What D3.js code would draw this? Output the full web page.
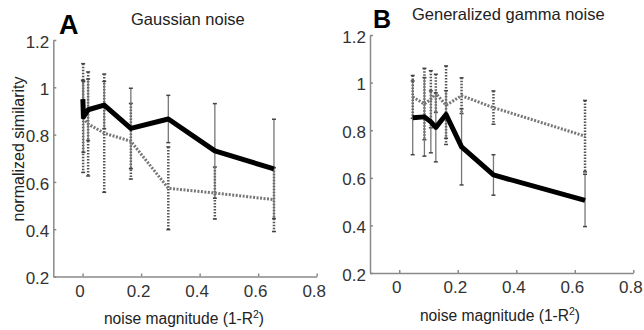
<!DOCTYPE html>
<html>
<head>
<meta charset="utf-8">
<script src="https://cdn.jsdelivr.net/npm/d3@7"></script>
<style>
  body { margin: 0; background: #fff; }
  svg { display: block; font-family: "Liberation Sans", Arial, sans-serif; }
  .axis path, .axis line { stroke: #8a8a8a; stroke-width: 1.5; }
  .axis text { fill: #333; font-size: 17px; }
</style>
</head>
<body>
<div id="chart"></div>
<script>
// shared ticks
const xTicks = [0, 0.2, 0.4, 0.6, 0.8];
const yTicks = [0.2, 0.4, 0.6, 0.8, 1, 1.2];

// panel A - Gaussian noise
const gaussSolidX = [0.001, 0.003, 0.019, 0.074, 0.165, 0.293, 0.452, 0.654];
const gaussSolidY = [0.95, 0.875, 0.905, 0.925, 0.826, 0.866, 0.731, 0.655];
const gaussSolidErr = [0.08, 0.15, 0.13, 0.1, 0.17, 0.1, 0.2, 0.21];
const gaussDotX = [0.002, 0.019, 0.074, 0.165, 0.293, 0.452, 0.654];
const gaussDotY = [0.87, 0.845, 0.806, 0.772, 0.573, 0.553, 0.525];
const gaussDotErr = [0.23, 0.22, 0.25, 0.16, 0.175, 0.11, 0.135];

// panel B - generalized gamma noise
const gammaX = [0.046, 0.086, 0.108, 0.125, 0.16, 0.213, 0.322, 0.635];
const gammaSolidY = [0.852, 0.856, 0.835, 0.812, 0.866, 0.73, 0.612, 0.505];
const gammaSolidErr = [0.155, 0.165, 0.13, 0.145, 0.1, 0.16, 0.085, 0.11];
const gammaDotY = [0.94, 0.91, 0.93, 0.955, 0.905, 0.945, 0.895, 0.775];
const gammaDotErr = [0.09, 0.15, 0.12, 0.08, 0.165, 0.075, 0.07, 0.15];

const width = 644, height = 330;

const svg = d3.select('#chart').append('svg')
  .attr('width', width)
  .attr('height', height);

function drawPanel(cfg) {
  const x = d3.scaleLinear().domain([-0.1, 0.8]).range([cfg.left, cfg.right]);
  const y = d3.scaleLinear().domain([0.2, 1.2]).range([cfg.bottom, cfg.top]);
  const g = svg.append('g');

  // tick labels sit a few px left of their ticks, like the original
  g.append('g')
    .attr('class', 'axis')
    .attr('transform', `translate(0,${cfg.bottom})`)
    .call(d3.axisBottom(x).tickValues(xTicks).tickFormat(d3.format('')).tickSizeInner(-3).tickSizeOuter(0).tickPadding(8))
    .call(a => a.selectAll('text').attr('font-size', 17).attr('dx', -3));

  g.append('g')
    .attr('class', 'axis')
    .attr('transform', `translate(${cfg.left},0)`)
    .call(d3.axisLeft(y).tickValues(yTicks).tickFormat(d3.format('')).tickSizeInner(-3).tickSizeOuter(0).tickPadding(4))
    .call(a => a.selectAll('text').attr('font-size', 17).attr('dy', '0.42em'));

  const line = d3.line().x(d => x(d[0])).y(d => y(d[1]));

  function errorBars(xs, ys, errs, cls) {
    const data = xs.map((v, i) => ({ x: v, y: ys[i], e: errs[i] }));
    const bars = g.append('g').selectAll('g').data(data).enter().append('g');
    bars.append('line')
      .attr('x1', d => x(d.x)).attr('x2', d => x(d.x))
      .attr('y1', d => y(d.y + d.e)).attr('y2', d => y(d.y - d.e))
      .attr('stroke', cls.color)
      .attr('stroke-width', cls.width)
      .attr('stroke-dasharray', cls.dash);
    [1, -1].forEach(s => {
      bars.append('line')
        .attr('x1', d => x(d.x) - 2).attr('x2', d => x(d.x) + 2)
        .attr('y1', d => y(d.y + s * d.e)).attr('y2', d => y(d.y + s * d.e))
        .attr('stroke', '#444')
        .attr('stroke-width', 1.5);
    });
  }

  // dotted series
  errorBars(cfg.dotX, cfg.dotY, cfg.dotErr, { color: '#555', width: 2.5, dash: '1.5,1.5' });
  g.append('path')
    .datum(cfg.dotX.map((v, i) => [v, cfg.dotY[i]]))
    .attr('d', line)
    .attr('fill', 'none')
    .attr('stroke', '#777')
    .attr('stroke-width', 3)
    .attr('stroke-dasharray', '2,1.5');

  // solid series
  errorBars(cfg.solidX, cfg.solidY, cfg.solidErr, { color: '#777', width: 1.3, dash: null });
  g.append('path')
    .datum(cfg.solidX.map((v, i) => [v, cfg.solidY[i]]))
    .attr('d', line)
    .attr('fill', 'none')
    .attr('stroke', '#000')
    .attr('stroke-width', 5)
    .attr('stroke-linejoin', 'round');

  // panel letter and title
  g.append('text')
    .attr('x', cfg.letterX).attr('y', cfg.letterY)
    .attr('font-size', cfg.letterSize).attr('font-weight', 'bold')
    .text(cfg.letter);
  g.append('text')
    .attr('x', cfg.titleX).attr('y', cfg.titleY)
    .attr('font-size', 16.5).attr('fill', '#222')
    .text(cfg.title);

  // x label
  const xl = g.append('text')
    .attr('x', cfg.xlabelX).attr('y', cfg.xlabelY)
    .attr('text-anchor', 'middle')
    .attr('font-size', 15.6).attr('fill', '#222');
  xl.append('tspan').text('noise magnitude (1-R');
  xl.append('tspan').attr('dy', -6).attr('font-size', 10.5).text('2');
  xl.append('tspan').attr('dy', 6).text(')');
}

drawPanel({
  left: 53.3, right: 316.7, top: 40, bottom: 276.5,
  solidX: gaussSolidX, solidY: gaussSolidY, solidErr: gaussSolidErr,
  dotX: gaussDotX, dotY: gaussDotY, dotErr: gaussDotErr,
  letter: 'A', letterX: 59, letterY: 34, letterSize: 27,
  title: 'Gaussian noise', titleX: 131, titleY: 24.5,
  xlabelX: 184, xlabelY: 324
});

drawPanel({
  left: 370, right: 633.3, top: 35, bottom: 273,
  solidX: gammaX, solidY: gammaSolidY, solidErr: gammaSolidErr,
  dotX: gammaX, dotY: gammaDotY, dotErr: gammaDotErr,
  letter: 'B', letterX: 373, letterY: 28, letterSize: 25,
  title: 'Generalized gamma noise', titleX: 412, titleY: 20,
  xlabelX: 500, xlabelY: 321
});

// y label (only on panel A)
svg.append('text')
  .attr('transform', 'translate(24,149) rotate(-90)')
  .attr('text-anchor', 'middle')
  .attr('font-size', 16).attr('fill', '#222')
  .text('normalized similarity');
</script>
</body>
</html>
